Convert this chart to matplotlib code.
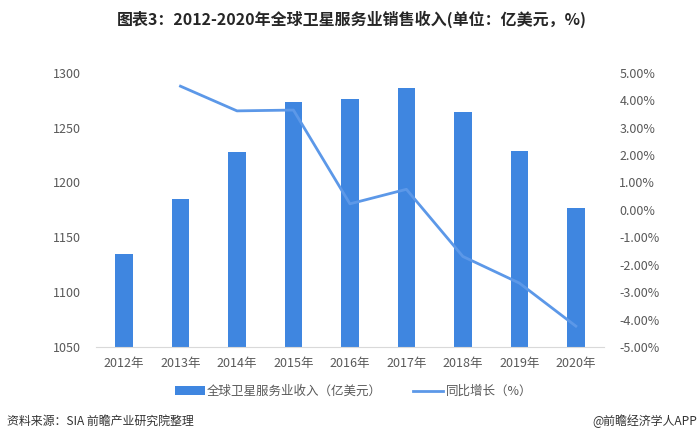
import matplotlib
matplotlib.use("Agg")
import matplotlib.pyplot as plt
from matplotlib.ticker import FuncFormatter, MultipleLocator

plt.rcParams['font.family'] = ['Noto Sans CJK SC', 'DejaVu Sans']

years = ["2012年", "2013年", "2014年", "2015年", "2016年", "2017年", "2018年", "2019年", "2020年"]
revenue = [1135, 1185, 1228, 1273, 1276, 1286, 1264, 1229, 1177]
growth_years_idx = [1, 2, 3, 4, 5, 6, 7, 8]
growth = [4.51, 3.61, 3.64, 0.22, 0.75, -1.70, -2.67, -4.24]

bar_color = "#3f86e0"
line_color = "#5c98e8"
tick_color = "#595959"

fig = plt.figure(figsize=(7.0, 4.41), dpi=100)
ax = fig.add_axes([0.1368, 0.2132, 0.7262, 0.6218])
x = list(range(len(years)))
b = ax.bar(x, revenue, width=0.31, color=bar_color, label="全球卫星服务业收入（亿美元）", zorder=2)
ax.set_ylim(1050, 1300)
ax.set_xlim(-0.5, len(years) - 0.5)
ax.yaxis.set_major_locator(MultipleLocator(50))
ax.set_xticks(x)
ax.set_xticklabels(years)
for s in ["top", "right", "left"]:
    ax.spines[s].set_visible(False)
ax.spines["bottom"].set_color("#d9d9d9")
ax.tick_params(axis="both", length=0, colors=tick_color, labelsize=9)
ax.tick_params(axis="y", pad=11)
ax.tick_params(axis="x", pad=7)

ax2 = ax.twinx()
ln, = ax2.plot(growth_years_idx, growth, color=line_color, linewidth=2.0, label="同比增长（%）", zorder=3)
ax2.set_ylim(-5, 5)
ax2.yaxis.set_major_locator(MultipleLocator(1))
ax2.yaxis.set_major_formatter(FuncFormatter(lambda v, p: f"{v:.2f}%"))
for s in ["top", "right", "left", "bottom"]:
    ax2.spines[s].set_visible(False)
ax2.tick_params(axis="y", length=0, colors=tick_color, labelsize=9, pad=11)

fig.text(0.502, 0.956, "图表3：2012-2020年全球卫星服务业销售收入(单位：亿美元，%)",
         ha="center", va="center", fontsize=11.5, fontweight="bold", color="#262626")

leg = fig.legend([b, ln], ["全球卫星服务业收入（亿美元）", "同比增长（%）"],
                 loc="center", bbox_to_anchor=(0.505, 0.112), ncol=2, frameon=False,
                 fontsize=9, handlelength=2.4, handletextpad=0.2, columnspacing=2.5,
                 labelcolor=tick_color)

fig.text(0.01, 0.045, "资料来源：SIA 前瞻产业研究院整理", ha="left", va="center",
         fontsize=8.6, color="#333333")
fig.text(0.996, 0.045, "@前瞻经济学人APP", ha="right", va="center",
         fontsize=8.6, color="#333333")

fig.savefig("out.png", dpi=100)
